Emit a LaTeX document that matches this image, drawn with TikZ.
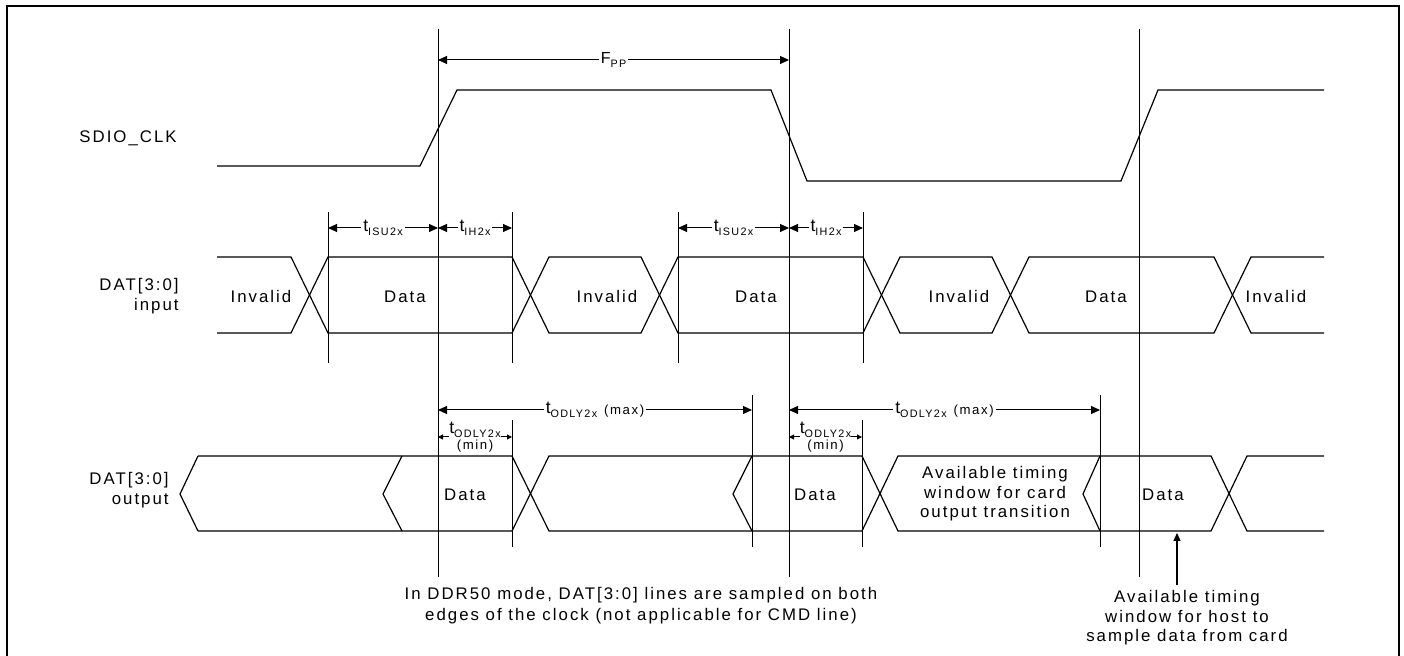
\documentclass[tikz,border=0pt]{standalone}
\usepackage{fontspec}
\setmainfont{Liberation Sans}[LetterSpace=12]
\usetikzlibrary{arrows.meta}
\newcommand\lsub[1]{\raisebox{-0.45ex}{\fontsize{5.4}{6}\selectfont #1}}
\newcommand\smallpar[1]{\raisebox{-0.15ex}{\fontsize{6.6}{7}\selectfont #1}}
\begin{document}
\begin{tikzpicture}[x=0.5pt,y=-0.5pt,
  wave/.style={line width=0.6pt},
  tickline/.style={line width=0.5pt},
  frameline/.style={line width=1.1pt},
  dimarrow/.style={line width=0.5pt,{Triangle[length=4.5pt,width=4pt]}-{Triangle[length=4.5pt,width=4pt]}},
  dimsmall/.style={line width=0.5pt,{Triangle[length=2.5pt,width=2.5pt]}-{Triangle[length=2.5pt,width=2.5pt]}},
  uparrow/.style={line width=0.6pt,-{Triangle[length=4pt,width=3.5pt]}},
  txt/.style={inner sep=0pt,font=\fontsize{8.4}{9.75}\selectfont},
  dimlbl/.style={fill=white,inner xsep=1pt,inner ysep=0.5pt,font=\fontsize{8.8}{9.75}\selectfont},
]
\useasboundingbox (0,0) rectangle (1404,656);
% frame
\draw[frameline] (7,658) -- (7,6) -- (1399,6) -- (1399,658);

% clock edge reference lines
\coordinate (e1t) at (438,29);  \coordinate (e1b) at (438,577);
\coordinate (e2t) at (789,29);  \coordinate (e2b) at (789,577);
\coordinate (e3t) at (1139,29); \coordinate (e3b) at (1139,577);
\draw[tickline] (e1t) -- (e1b);
\draw[tickline] (e2t) -- (e2b);
\draw[tickline] (e3t) -- (e3b);

% clock
\draw[wave] (217,166) -- (420,166) -- (457,90) -- (771,90) -- (807,181) -- (1121,181) -- (1158,90) -- (1324,90);

% input row
\draw[wave] (217,257) -- (291,257) -- (328,333) -- (512,333) -- (549,257) -- (641,257) -- (678,333) -- (863,333) -- (900,257) -- (992,257) -- (1029,333) -- (1214,333) -- (1251,257) -- (1324,257);
\draw[wave] (217,333) -- (291,333) -- (328,257) -- (512,257) -- (549,333) -- (641,333) -- (678,257) -- (863,257) -- (900,333) -- (992,333) -- (1029,257) -- (1214,257) -- (1251,333) -- (1324,333);

% output row
\draw[wave] (198,456) -- (512,456) -- (549,531) -- (862,531) -- (898,456) -- (1211,456) -- (1247,531) -- (1324,531);
\draw[wave] (198,531) -- (512,531) -- (549,456) -- (862,456) -- (898,531) -- (1211,531) -- (1247,456) -- (1324,456);
\draw[wave] (198,456) -- (180,494) -- (198,531);
\draw[wave] (402,456) -- (383,494) -- (402,531);
\draw[wave] (752,456) -- (733,494) -- (752,531);
\draw[wave] (1100,456) -- (1083,494) -- (1100,531);

% ticks
\foreach \x in {328,512,678,863} \draw[tickline] (\x,212) -- (\x,363);
\foreach \x in {512,862} \draw[tickline] (\x,420) -- (\x,547);
\foreach \x in {752,1100} \draw[tickline] (\x,395) -- (\x,547);

% dimension arrows
\coordinate (fa) at (438,60); \coordinate (fb) at (789,60);
\draw[dimarrow] (fa) -- node[dimlbl,font=\fontsize{8}{9}\selectfont] (fpp) {F\lsub{PP}} (fb);

\coordinate (s1a) at (328,228); \coordinate (s1b) at (438,228); \coordinate (h1b) at (512,228);
\coordinate (s2a) at (678,228); \coordinate (s2b) at (789,228); \coordinate (h2b) at (863,228);
\draw[dimarrow] (s1a) -- node[dimlbl] (isu1) {t\lsub{ISU2x}} (s1b);
\draw[dimarrow] (s1b) -- node[dimlbl] (ih1) {t\lsub{IH2x}} (h1b);
\draw[dimarrow] (s2a) -- node[dimlbl] (isu2) {t\lsub{ISU2x}} (s2b);
\draw[dimarrow] (s2b) -- node[dimlbl] (ih2) {t\lsub{IH2x}} (h2b);

\coordinate (m1a) at (438,410); \coordinate (m1b) at (752,410);
\coordinate (m2a) at (789,410); \coordinate (m2b) at (1100,410);
\draw[dimarrow] (m1a) -- node[dimlbl] (max1) {t\lsub{ODLY2x} \smallpar{(max)}} (m1b);
\draw[dimarrow] (m2a) -- node[dimlbl] (max2) {t\lsub{ODLY2x} \smallpar{(max)}} (m2b);

\coordinate (n1a) at (438,437); \coordinate (n1b) at (512,437);
\coordinate (n2a) at (789,437); \coordinate (n2b) at (862,437);
\draw[dimsmall] (n1a) -- node[dimlbl,inner xsep=0pt,align=center,font=\fontsize{8.8}{7}\selectfont] (min1) {t\lsub{ODLY2x}\\\smallpar{(min)}} (n1b);
\draw[dimsmall] (n2a) -- node[dimlbl,inner xsep=0pt,align=center,font=\fontsize{8.8}{7}\selectfont] (min2) {t\lsub{ODLY2x}\\\smallpar{(min)}} (n2b);

% signal names
\node[txt,anchor=east] (clk) at (177,138) {SDIO\_CLK};
\node[txt,anchor=east,align=right] (din) at (179,296) {DAT[3:0]\\input};
\node[txt,anchor=east,align=right] (dout) at (169,490) {DAT[3:0]\\output};

% input row texts
\node[txt,anchor=base] (i1) at (261,303) {Invalid};
\node[txt,anchor=base] (d1) at (405,303) {Data};
\node[txt,anchor=base] (i2) at (607,303) {Invalid};
\node[txt,anchor=base] (d2) at (756,303) {Data};
\node[txt,anchor=base] (i3) at (959,303) {Invalid};
\node[txt,anchor=base] (d3) at (1106,303) {Data};
\node[txt,anchor=base] (i4) at (1276,303) {Invalid};

% output row texts
\node[txt,anchor=base] (o1) at (465,501) {Data};
\node[txt,anchor=base] (o2) at (815,501) {Data};
\node[txt,anchor=base] (o3) at (1163,501) {Data};
\node[txt,align=center] (win) at (995,494) {Available timing\\window for card\\output transition};

% notes
\node[txt,align=center,font=\fontsize{8.4}{10.5}\selectfont] (ddr) at (641,606) {In DDR50 mode, DAT[3:0] lines are sampled on both\\edges of the clock (not applicable for CMD line)};
\node[txt,align=center,anchor=north] (host) at (1187,590) {Available timing\\window for host to\\sample data from card};
\coordinate (hosttip) at (1177,533);
\draw[uparrow] (host.north -| hosttip) ++(0,-5) -- (hosttip);
\end{tikzpicture}
\end{document}
